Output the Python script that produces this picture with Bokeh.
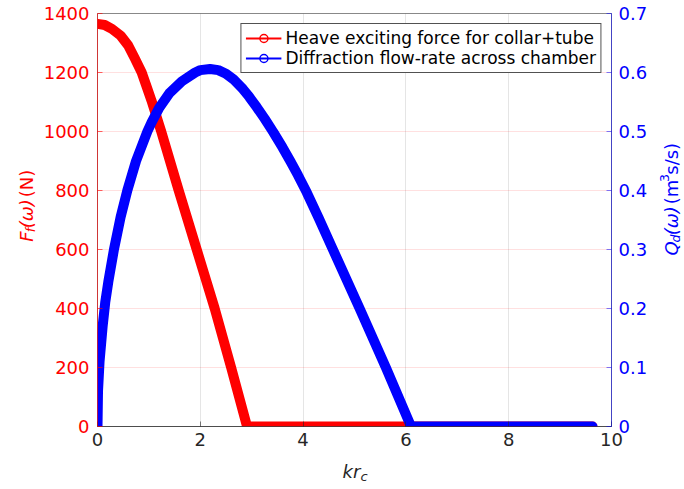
import math
from bokeh.plotting import figure
from bokeh.layouts import row, column
from bokeh.models import Range1d, LinearAxis, FixedTicker, Legend, LegendItem, Label
from bokeh.embed import file_html
from bokeh.resources import INLINE

# ---- data ----
kr_F = [0, 0.14, 0.28, 0.45, 0.6, 0.72, 0.86, 0.96, 1.05, 1.24, 1.58, 1.93, 2.28, 2.6, 2.91, 9.63]
F = [1365, 1361, 1348, 1325, 1291, 1250, 1200, 1150, 1105, 1000, 800, 600, 400, 200, 0, 0]

kr_Q = [0, 0.01, 0.04, 0.1, 0.15, 0.21, 0.32, 0.45, 0.58, 0.75, 0.97, 1.05, 1.2, 1.4, 1.64,
        1.9, 2.0, 2.19, 2.35, 2.5, 2.65, 2.83, 2.95, 3.1, 3.25, 3.42, 3.6, 3.75, 3.9, 4.07,
        4.3, 4.58, 5.10, 5.61, 6.10, 9.63]
Q = [0, 0.06, 0.11, 0.17, 0.21, 0.245, 0.30, 0.355, 0.40, 0.45, 0.50, 0.515, 0.54, 0.565, 0.585,
     0.600, 0.604, 0.606, 0.604, 0.598, 0.588, 0.572, 0.559, 0.541, 0.522, 0.499, 0.473, 0.450,
     0.426, 0.397, 0.354, 0.30, 0.20, 0.10, 0, 0]

x_ticks = [0, 2, 4, 6, 8, 10]
F_ticks = [0, 200, 400, 600, 800, 1000, 1200, 1400]
Q_ticks = [0, 0.1, 0.2, 0.3, 0.4, 0.5, 0.6, 0.7]
Q_tick_labels = ["0", "0.1", "0.2", "0.3", "0.4", "0.5", "0.6", "0.7"]

label_F = "Heave exciting force for collar+tube"
label_Q = "Diffraction flow-rate across chamber"

RED = "#ff0000"
BLUE = "#0000ff"
DARK = "#262626"
FONT = "DejaVu Sans"

# ---- page geometry (pixels) ----
TOTAL_W, TOTAL_H = 684, 489
LW = 38            # left title strip
RW = 34            # right title strip
MW = TOTAL_W - LW - RW
MH = 454
BH = TOTAL_H - MH  # bottom title strip
FRAME_L, FRAME_R, FRAME_T, FRAME_B = 97, 612, 13, 426

p = figure(width=MW, height=MH, x_range=Range1d(0, 10), y_range=Range1d(0, 1400),
           output_backend="svg", toolbar_location=None,
           min_border_left=FRAME_L - LW, min_border_right=LW + MW - FRAME_R,
           min_border_top=FRAME_T, min_border_bottom=MH - FRAME_B)
p.background_fill_color = "white"
p.border_fill_color = "white"
p.outline_line_color = DARK
p.outline_line_alpha = 0.55
p.extra_y_ranges = {"q": Range1d(0, 0.7)}

def style_axis(ax, color, line_color, line_alpha):
    ax.major_tick_in = 5
    ax.major_tick_out = 0
    ax.minor_tick_in = 0
    ax.minor_tick_out = 0
    ax.major_tick_line_color = line_color
    ax.major_tick_line_alpha = line_alpha
    ax.axis_line_color = line_color
    ax.axis_line_alpha = line_alpha
    ax.major_label_text_font = FONT
    ax.major_label_text_font_size = "18px"
    ax.major_label_text_color = color

xa = p.xaxis[0]
xa.ticker = FixedTicker(ticks=x_ticks)
style_axis(xa, DARK, DARK, 0.6)
xa.major_label_standoff = 6

ya = p.yaxis[0]
ya.ticker = FixedTicker(ticks=F_ticks)
style_axis(ya, RED, RED, 0.6)
ya.major_label_standoff = 8

yr = LinearAxis(y_range_name="q", ticker=FixedTicker(ticks=Q_ticks),
                major_label_overrides=dict(zip(Q_ticks, Q_tick_labels)))
style_axis(yr, BLUE, BLUE, 0.5)
yr.major_label_standoff = 7
p.add_layout(yr, "right")

p.xgrid.ticker = FixedTicker(ticks=x_ticks)
p.xgrid.grid_line_color = DARK
p.xgrid.grid_line_alpha = 0.12
p.ygrid.ticker = FixedTicker(ticks=F_ticks)
p.ygrid.grid_line_color = RED
p.ygrid.grid_line_alpha = 0.12

# ---- curves ----
p.line(kr_F, F, line_color=RED, line_width=10, line_cap="round", line_join="round")
p.line(kr_Q, Q, line_color=BLUE, line_width=10, line_cap="round", line_join="round",
       y_range_name="q")

# ---- legend (thin line + open circle markers, drawn from off-range dummies) ----
lr = p.line(x=[-20, -19], y=[-100, -100], line_color=RED, line_width=2)
mr = p.scatter(x=[-20], y=[-100], marker="circle", size=6, line_color=RED, line_width=1.5,
               fill_color=None)
lb = p.line(x=[-20, -19], y=[-100, -100], line_color=BLUE, line_width=2)
mb = p.scatter(x=[-20], y=[-100], marker="circle", size=6, line_color=BLUE, line_width=1.5,
               fill_color=None)

legend = Legend(items=[LegendItem(label=label_F, renderers=[lr, mr]),
                       LegendItem(label=label_Q, renderers=[lb, mb])],
                location="top_right", margin=10, padding=4, spacing=0,
                glyph_width=36, glyph_height=20, label_height=20, label_standoff=4,
                label_text_font=FONT, label_text_font_size="17px", label_text_color="#000000",
                border_line_color=DARK, border_line_alpha=0.8, border_line_width=1,
                background_fill_color="white", background_fill_alpha=1.0)
p.add_layout(legend)

# ---- title strips: tiny figures whose frame is the whole strip (pixel coordinates) ----
def strip(w, h):
    f = figure(width=w, height=h, x_range=Range1d(0, w), y_range=Range1d(0, h),
               output_backend="svg", toolbar_location=None, min_border=0,
               x_axis_location=None, y_axis_location=None)
    f.outline_line_color = None
    f.background_fill_color = "white"
    f.border_fill_color = "white"
    for g in f.grid:
        g.visible = False
    return f

def piece(f, ox, oy, text, ix, iy, size, style, color, angle=0.0):
    # ix, iy: page pixel position of the text's baseline start
    h = f.height
    f.add_layout(Label(x=ix - ox, y=h - (iy - oy), text=text, angle=angle,
                       text_font=FONT, text_font_size=f"{size}px", text_font_style=style,
                       text_color=color, text_align="left", text_baseline="alphabetic"))

A = math.pi / 2

left = strip(LW, MH)
bxL, y0L = 26, 251
piece(left, 0, 0, "F", bxL, y0L, 18, "italic", RED, A)
piece(left, 0, 0, "f", bxL + 4, y0L - 10.4, 12.5, "italic", RED, A)
piece(left, 0, 0, "(ω)", bxL, y0L - 14.8, 18, "italic", RED, A)
piece(left, 0, 0, "(N)", bxL, y0L - 48.9, 18, "normal", RED, A)

right = strip(RW, MH)
ox = LW + MW
bxR, y0R = 671, 266
piece(right, ox, 0, "Q", bxR, y0R, 18, "italic", BLUE, A)
piece(right, ox, 0, "d", bxR + 4, y0R - 14.2, 12.5, "italic", BLUE, A)
piece(right, ox, 0, "(ω)", bxR, y0R - 22.1, 18, "italic", BLUE, A)
piece(right, ox, 0, "(m", bxR, y0R - 56.2, 18, "normal", BLUE, A)
piece(right, ox, 0, "3", bxR - 7, y0R - 80.8, 12.5, "normal", BLUE, A)
piece(right, ox, 0, "s/s)", bxR, y0R - 88.8, 18, "normal", BLUE, A)

bottom = strip(TOTAL_W, BH)
piece(bottom, 0, MH, "kr", 342, 471, 18, "italic", DARK)
piece(bottom, 0, MH, "c", 360, 476, 13, "italic", DARK)

layout = column(row(left, p, right, spacing=0), bottom, spacing=0)

open("out.html", "w").write(file_html(layout, INLINE))
